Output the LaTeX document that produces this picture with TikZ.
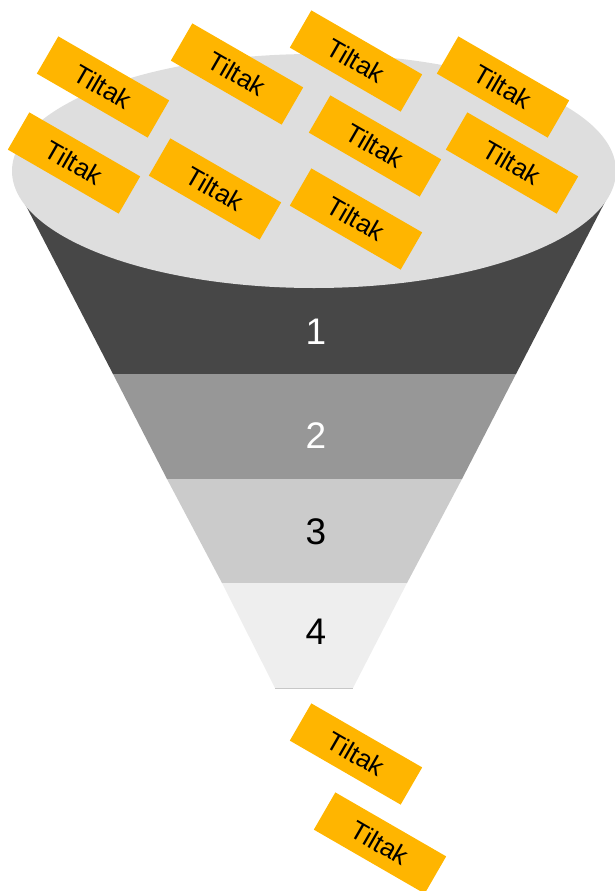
\documentclass[tikz,border=0pt]{standalone}
\usepackage{fontspec}
\setmainfont{Liberation Sans}
\definecolor{bandone}{RGB}{71,71,71}
\definecolor{bandtwo}{RGB}{151,151,151}
\definecolor{bandthree}{RGB}{203,203,203}
\definecolor{bandfour}{RGB}{238,238,238}
\definecolor{rimgrey}{RGB}{222,222,222}
\definecolor{tiltakorange}{RGB}{255,181,0}
\tikzset{
    tiltak/.style={fill=tiltakorange, draw=none, rotate=-30, inner sep=0pt,
        minimum width=128pt, minimum height=43pt,
        font=\fontsize{26}{30}\selectfont},
    bandnum/.style={font=\fontsize{37}{40}\selectfont}
}

\begin{document}
\begin{tikzpicture}[x=1pt, y=-1pt]

    % 0. fast ramme
    \useasboundingbox (0,0) rectangle (615,891);

    % 1. traktens fire felt
    \fill[bandone]   (23,200) -- (113,374) -- (516,374) -- (606,200) -- cycle;
    \fill[bandtwo]   (113,374) -- (167,479) -- (462,479) -- (516,374) -- cycle;
    \fill[bandthree] (167,479) -- (222,583) -- (407,583) -- (462,479) -- cycle;
    \fill[bandfour]  (222,583) -- (275,688) -- (353,688) -- (407,583) -- cycle;
    \draw[black!22, line width=0.6pt] (275,688) -- (353,688);

    % 2. traktens åpning (ellipse)
    \fill[rimgrey] (314,171) ellipse [x radius=302, y radius=117];

    % 3. tallene i feltene
    \node[bandnum, text=white] (n1) at (316,332) {1};
    \node[bandnum, text=white] (n2) at (316,436) {2};
    \node[bandnum] (n3) at (316,532) {3};
    \node[bandnum] (n4) at (316,632) {4};

    % 4. tiltak i åpningen
    \node[tiltak] (t1) at (103,87)  {Tiltak};
    \node[tiltak] (t2) at (237,74)  {Tiltak};
    \node[tiltak] (t3) at (356,61)  {Tiltak};
    \node[tiltak] (t4) at (503,87)  {Tiltak};
    \node[tiltak] (t5) at (375,146) {Tiltak};
    \node[tiltak] (t6) at (512,163) {Tiltak};
    \node[tiltak] (t7) at (74,163)  {Tiltak};
    \node[tiltak] (t8) at (215,189) {Tiltak};
    \node[tiltak] (t9) at (356,219) {Tiltak};

    % 5. tiltak som har gått gjennom
    \node[tiltak] (t10) at (356,754) {Tiltak};
    \node[tiltak] (t11) at (380,843) {Tiltak};

\end{tikzpicture}
\end{document}
